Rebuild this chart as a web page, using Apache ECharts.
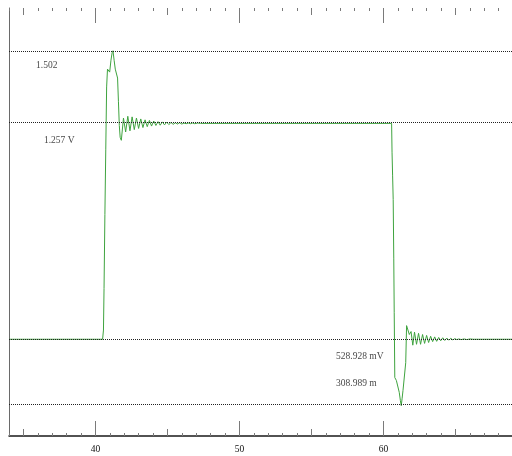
<!DOCTYPE html>
<html>
<head>
<meta charset="utf-8">
<script src="https://cdn.jsdelivr.net/npm/echarts@6/dist/echarts.min.js"></script>
<style>
html,body{margin:0;padding:0;background:#fff;}
#chart{width:512px;height:456px;}
</style>
</head>
<body>
<div id="chart"></div>
<script>
// ---- data ----
const majorTicks = [40, 50, 60];
const midTicks = [35, 45, 55, 65];
const minorTicks = [34, 36, 37, 38, 39, 41, 42, 43, 44, 46, 47, 48, 49, 51, 52, 53, 54, 56, 57, 58, 59, 61, 62, 63, 64, 66, 67, 68];
const tickLabels = [40, 50, 60];
const refLevels = [1.502, 1.257, 0.528928, 0.308989];
const annotationTexts = ['1.502', '1.257 V', '528.928 mV', '308.989 m'];
const waveform = [
  [34.0, 0.529], [40.50, 0.529], [40.56, 0.56], [40.60, 0.70], [40.66, 0.95], [40.72, 1.17],
  [40.78, 1.38], [40.84, 1.44], [40.92, 1.445], [40.99, 1.43], [41.08, 1.47], [41.16, 1.495],
  [41.22, 1.502], [41.30, 1.47], [41.38, 1.44], [41.46, 1.437], [41.54, 1.41], [41.60, 1.33],
  [41.66, 1.25], [41.72, 1.21], [41.80, 1.200],
  [41.95, 1.275], [42.10, 1.228], [42.25, 1.281], [42.40, 1.232], [42.55, 1.279], [42.70, 1.236],
  [42.85, 1.275], [43.00, 1.240], [43.15, 1.272], [43.30, 1.243], [43.45, 1.269], [43.60, 1.246],
  [43.75, 1.267], [43.90, 1.248], [44.05, 1.265], [44.20, 1.250], [44.35, 1.263], [44.50, 1.251],
  [44.65, 1.262], [44.80, 1.252], [44.95, 1.261], [45.10, 1.253], [45.25, 1.260], [45.40, 1.254],
  [45.55, 1.259], [45.70, 1.255], [45.85, 1.259], [46.00, 1.255], [46.15, 1.258], [46.30, 1.256],
  [46.45, 1.258], [46.60, 1.256], [46.75, 1.258], [46.90, 1.256], [47.10, 1.258], [47.30, 1.257],
  [60.57, 1.257],
  [60.60, 1.16], [60.64, 1.08], [60.68, 1.00], [60.72, 0.80], [60.75, 0.62], [60.79, 0.40],
  [60.90, 0.39], [61.01, 0.384], [61.10, 0.35], [61.18, 0.322], [61.24, 0.305], [61.30, 0.33],
  [61.36, 0.356], [61.48, 0.357], [61.55, 0.45], [61.61, 0.575], [61.70, 0.578], [61.80, 0.545],
  [61.92, 0.555], [62.04, 0.509], [62.16, 0.553], [62.30, 0.512], [62.44, 0.549], [62.58, 0.512],
  [62.72, 0.545], [62.86, 0.515], [63.00, 0.542], [63.14, 0.518], [63.28, 0.539], [63.42, 0.521],
  [63.56, 0.537], [63.70, 0.522], [63.84, 0.535], [63.98, 0.524], [64.12, 0.534], [64.26, 0.525],
  [64.40, 0.533], [64.54, 0.526], [64.68, 0.532], [64.82, 0.527], [64.96, 0.531], [65.10, 0.528],
  [65.24, 0.530], [65.40, 0.528], [65.60, 0.530], [65.80, 0.528], [66.00, 0.530], [66.25, 0.529],
  [68.93, 0.529]
];

// ---- chart ----
const X_MIN = 34, X_MAX = 68.93;
const chart = echarts.init(document.getElementById('chart'), null, {renderer: 'canvas'});
const tickColor = '#7a7a7a';
function xAx(pos, values, len, extra) {
  return Object.assign({
    type: 'value', position: pos, min: X_MIN, max: X_MAX,
    axisLine: {show: false},
    axisTick: {show: true, inside: true, length: len, customValues: values, lineStyle: {color: tickColor, width: 1}},
    axisLabel: {show: false},
    splitLine: {show: false}
  }, extra || {});
}
const annX = [35.88, 36.43, 56.71, 56.71];
const annOffset = [15, 17, 17, -21];
const option = {
  animation: false,
  backgroundColor: '#fff',
  grid: {left: 9, right: 0, top: 8, bottom: 20, containLabel: false},
  xAxis: [
    xAx('bottom', majorTicks, 15, {
      axisLine: {show: true, lineStyle: {color: '#1a1a1a', width: 1.5}},
      axisLabel: {show: true, customValues: tickLabels, margin: 8, color: '#111',
        fontFamily: 'Liberation Serif', fontSize: 9.5}
    }),
    xAx('bottom', midTicks, 7),
    xAx('bottom', minorTicks, 3),
    xAx('top', majorTicks, 15),
    xAx('top', midTicks, 7),
    xAx('top', minorTicks, 3)
  ],
  yAxis: {
    type: 'value', min: 0.2027, max: 1.6462,
    axisLine: {show: true, lineStyle: {color: '#6a6a6a', width: 1}},
    axisTick: {show: false}, axisLabel: {show: false}, splitLine: {show: false}
  },
  series: [
    {
      type: 'line', xAxisIndex: 0, data: waveform, showSymbol: false, symbol: 'none',
      lineStyle: {color: '#3fa33f', width: 1}, z: 3,
      markLine: {
        silent: true, symbol: 'none', animation: false,
        label: {show: false},
        lineStyle: {type: 'dotted', color: '#222', width: 1},
        data: refLevels.map(v => ({yAxis: v}))
      }
    },
    {
      type: 'scatter', xAxisIndex: 0, symbolSize: 0, silent: true,
      data: refLevels.map((v, i) => [annX[i], v]),
      label: {
        show: true,
        formatter: p => annotationTexts[p.dataIndex],
        position: 'right', distance: 0,
        color: '#111', fontFamily: 'Liberation Serif', fontSize: 9.5
      },
      labelLayout: p => ({dy: annOffset[p.dataIndex]})
    }
  ]
};
chart.setOption(option);
</script>
</body>
</html>
